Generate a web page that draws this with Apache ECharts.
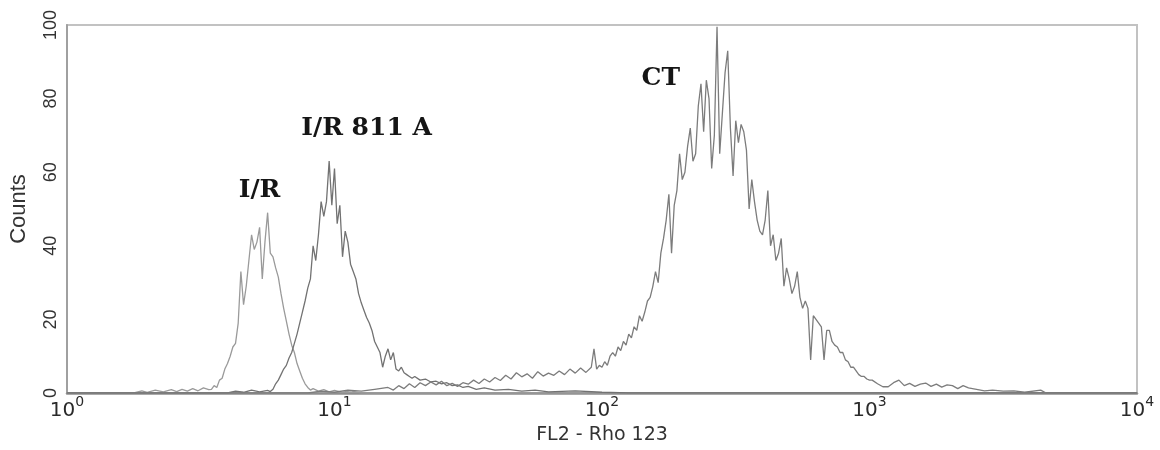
<!DOCTYPE html>
<html><head><meta charset="utf-8">
<script src="https://cdn.jsdelivr.net/npm/echarts@6/dist/echarts.min.js"></script>
<style>html,body{margin:0;padding:0;background:#fff}#c{width:1160px;height:450px}</style>
</head><body><div id="c"></div>
<script>
// x values are log10(FL2 - Rho 123 intensity), y values are counts
const xTickExponents = [0, 1, 2, 3, 4];
const yTicks = [0, 20, 40, 60, 80, 100];
const seriesNames = ['I/R', 'I/R 811 A', 'CT'];

const irData = [
[0.00,0],[0.25,0],[0.28,0.6],[0.30,0.2],[0.33,0.8],[0.36,0.3],[0.39,0.9],[0.41,0.4],[0.43,1.0],[0.45,0.5],
[0.47,1.2],[0.49,0.6],[0.51,1.4],[0.53,0.9],[0.54,1.0],[0.55,2.0],[0.56,1.5],[0.57,3.5],[0.58,4.0],[0.59,6.5],
[0.60,8.0],[0.61,10.0],[0.62,12.5],[0.63,13.5],[0.64,19.0],[0.65,33.0],[0.66,24.0],[0.67,29.0],[0.68,36.0],[0.69,43.0],
[0.70,39.0],[0.71,41.0],[0.72,45.0],[0.73,31.0],[0.74,41.0],[0.75,49.0],[0.76,38.0],[0.77,37.0],[0.78,34.0],[0.79,31.5],
[0.80,27.0],[0.81,23.0],[0.82,19.5],[0.83,16.0],[0.84,13.0],[0.85,11.0],[0.86,8.0],[0.87,6.0],[0.88,4.0],[0.89,2.5],
[0.90,1.5],[0.91,0.8],[0.92,1.2],[0.94,0.5],[0.96,0.9],[0.98,0.3],[1.00,0.7],[1.03,0.2],[1.06,0.6],[1.10,0],[4.00,0]
];

const ir811aData = [
[0.00,0],[0.60,0],[0.63,0.5],[0.66,0.2],[0.69,0.8],[0.72,0.3],[0.75,0.7],[0.76,0.4],[0.77,1.0],[0.78,2.5],
[0.79,3.5],[0.80,5.0],[0.81,6.5],[0.82,7.5],[0.83,9.5],[0.84,11.0],[0.85,13.5],[0.86,16.0],[0.87,19.0],[0.88,22.0],
[0.89,25.0],[0.90,28.5],[0.91,31.0],[0.92,40.0],[0.93,36.0],[0.94,43.0],[0.95,52.0],[0.96,48.0],[0.97,52.0],[0.98,63.0],
[0.99,51.0],[1.00,61.0],[1.01,46.0],[1.02,51.0],[1.03,37.0],[1.04,44.0],[1.05,41.0],[1.06,35.0],[1.07,33.0],[1.08,31.0],
[1.09,27.0],[1.10,24.5],[1.11,22.5],[1.12,20.5],[1.13,19.0],[1.14,17.0],[1.15,14.0],[1.16,12.5],[1.17,11.0],[1.18,7.0],
[1.19,10.0],[1.20,12.0],[1.21,9.0],[1.22,11.0],[1.23,6.5],[1.24,6.0],[1.25,7.0],[1.26,5.5],[1.27,5.0],[1.28,4.5],
[1.29,4.0],[1.30,4.5],[1.32,3.5],[1.34,3.8],[1.36,3.0],[1.38,3.2],[1.40,2.5],[1.42,2.8],[1.44,2.0],[1.46,2.2],
[1.48,1.5],[1.50,1.8],[1.53,1.0],[1.56,1.4],[1.60,0.8],[1.65,1.0],[1.70,0.5],[1.75,0.8],[1.80,0.3],[1.90,0.6],
[2.00,0.2],[2.10,0],[4.00,0]
];

const ctData = [
[0.00,0],[0.90,0],[0.95,0.5],[1.00,0.2],[1.05,0.8],[1.10,0.5],[1.15,1.0],[1.20,1.5],[1.22,0.8],[1.24,2.0],
[1.26,1.2],[1.28,2.5],[1.30,1.5],[1.32,2.8],[1.34,2.0],[1.36,3.0],[1.38,2.2],[1.40,3.2],[1.42,2.0],[1.44,2.6],
[1.46,1.8],[1.48,2.8],[1.50,2.4],[1.52,3.5],[1.54,2.6],[1.56,3.8],[1.58,3.0],[1.60,4.2],[1.62,3.4],[1.64,4.8],
[1.66,3.8],[1.68,5.5],[1.70,4.4],[1.72,5.2],[1.74,4.0],[1.76,5.8],[1.78,4.6],[1.80,5.4],[1.82,4.8],[1.84,6.0],
[1.86,5.0],[1.88,6.5],[1.90,5.4],[1.92,6.8],[1.94,5.6],[1.96,7.0],[1.97,12.0],[1.98,6.5],[1.99,7.5],[2.00,7.0],
[2.01,8.5],[2.02,7.5],[2.03,10.0],[2.04,11.0],[2.05,10.0],[2.06,12.5],[2.07,11.5],[2.08,14.0],[2.09,13.0],[2.10,16.0],
[2.11,15.0],[2.12,18.0],[2.13,17.0],[2.14,21.0],[2.15,19.5],[2.16,22.0],[2.17,25.0],[2.18,26.0],[2.19,29.0],[2.20,33.0],
[2.21,30.0],[2.22,38.0],[2.23,42.0],[2.24,47.0],[2.25,54.0],[2.26,38.0],[2.27,51.0],[2.28,55.0],[2.29,65.0],[2.30,58.0],
[2.31,60.0],[2.32,67.0],[2.33,72.0],[2.34,63.0],[2.35,65.0],[2.36,78.0],[2.37,84.0],[2.38,71.0],[2.39,85.0],[2.40,80.0],
[2.41,61.0],[2.42,70.0],[2.43,99.5],[2.44,65.0],[2.45,76.0],[2.46,87.0],[2.47,93.0],[2.48,72.0],[2.49,59.0],[2.50,74.0],
[2.51,68.0],[2.52,73.0],[2.53,71.0],[2.54,66.0],[2.55,50.0],[2.56,58.0],[2.57,52.0],[2.58,47.0],[2.59,44.0],[2.60,43.0],
[2.61,47.0],[2.62,55.0],[2.63,40.0],[2.64,43.0],[2.65,36.0],[2.66,38.0],[2.67,42.0],[2.68,29.0],[2.69,34.0],[2.70,31.0],
[2.71,27.0],[2.72,29.0],[2.73,33.0],[2.74,26.0],[2.75,23.0],[2.76,25.0],[2.77,23.0],[2.78,9.0],[2.79,21.0],[2.80,20.0],
[2.81,19.0],[2.82,18.0],[2.83,9.0],[2.84,17.0],[2.85,17.0],[2.86,14.0],[2.87,13.0],[2.88,12.5],[2.89,11.0],[2.90,11.0],
[2.91,9.0],[2.92,8.5],[2.93,7.0],[2.94,7.0],[2.95,6.0],[2.96,5.0],[2.97,4.5],[2.98,4.5],[2.99,3.8],[3.00,3.5],
[3.01,3.5],[3.03,2.5],[3.05,1.7],[3.07,1.7],[3.09,2.8],[3.11,3.5],[3.13,2.0],[3.15,2.6],[3.17,1.8],[3.19,2.4],
[3.21,2.7],[3.23,1.8],[3.25,2.4],[3.27,1.6],[3.29,2.2],[3.31,2.0],[3.33,1.2],[3.35,2.0],[3.37,1.4],[3.40,1.0],
[3.43,0.6],[3.46,0.8],[3.50,0.5],[3.54,0.6],[3.58,0.2],[3.64,0.8],[3.66,0],[4.00,0]
];

const chart = echarts.init(document.getElementById('c'), null, {renderer: 'canvas'});

function annot(text, coord) {
  return {
    symbol: 'circle', symbolSize: 0, silent: true,
    data: [{coord: coord, value: text}],
    label: {show: true, position: 'inside', formatter: text,
      fontFamily: 'DejaVu Serif', fontWeight: 'bold', fontSize: 25, color: '#151515'}
  };
}

const lineStyleFor = (c) => ({color: c, width: 1.3});

chart.setOption({
  animation: false,
  backgroundColor: '#ffffff',
  grid: {left: 67, right: 23, top: 25, bottom: 57, outerBoundsMode: 'none', containLabel: false,
         show: true, borderColor: '#c2c2c2', borderWidth: 2, backgroundColor: 'transparent'},
  xAxis: {
    type: 'value', min: 0, max: 4, interval: 1,
    axisLine: {show: true, onZero: false, lineStyle: {color: '#8e8e8e', width: 2.5}},
    axisTick: {show: false},
    splitLine: {show: false},
    axisLabel: {
      margin: 2,
      formatter: (v) => xTickExponents.includes(v) ? '{b|10}{s|' + v + '}' : '',
      rich: {
        b: {fontFamily: 'DejaVu Sans', fontSize: 20, color: '#2a2a2a', lineHeight: 26, verticalAlign: 'bottom'},
        s: {fontFamily: 'DejaVu Sans', fontSize: 14, color: '#2a2a2a', lineHeight: 26, verticalAlign: 'top'}
      }
    },
    name: 'FL2 - Rho 123', nameLocation: 'middle', nameGap: 33,
    nameTextStyle: {fontFamily: 'DejaVu Sans', fontSize: 19, color: '#333'}
  },
  yAxis: {
    type: 'value', min: yTicks[0], max: yTicks[yTicks.length - 1], interval: 20,
    axisLine: {show: true, lineStyle: {color: '#a0a0a0', width: 2}},
    axisTick: {show: false},
    splitLine: {show: false},
    axisLabel: {rotate: 90, margin: 7, fontFamily: 'Liberation Sans', fontSize: 18, color: '#333'},
    name: 'Counts', nameLocation: 'middle', nameRotate: 90, nameGap: 37,
    nameTextStyle: {fontFamily: 'Liberation Sans', fontSize: 22, color: '#333'}
  },
  series: [
    {name: seriesNames[0], type: 'line', data: irData, showSymbol: false, silent: true,
     lineStyle: lineStyleFor('#9a9a9a'), markPoint: annot('I/R', [0.72, 55])},
    {name: seriesNames[1], type: 'line', data: ir811aData, showSymbol: false, silent: true,
     lineStyle: lineStyleFor('#727272'), markPoint: annot('I/R 811 A', [1.12, 72])},
    {name: seriesNames[2], type: 'line', data: ctData, showSymbol: false, silent: true,
     lineStyle: lineStyleFor('#7c7c7c'), markPoint: annot('CT', [2.22, 85.5])}
  ]
});
</script></body></html>
